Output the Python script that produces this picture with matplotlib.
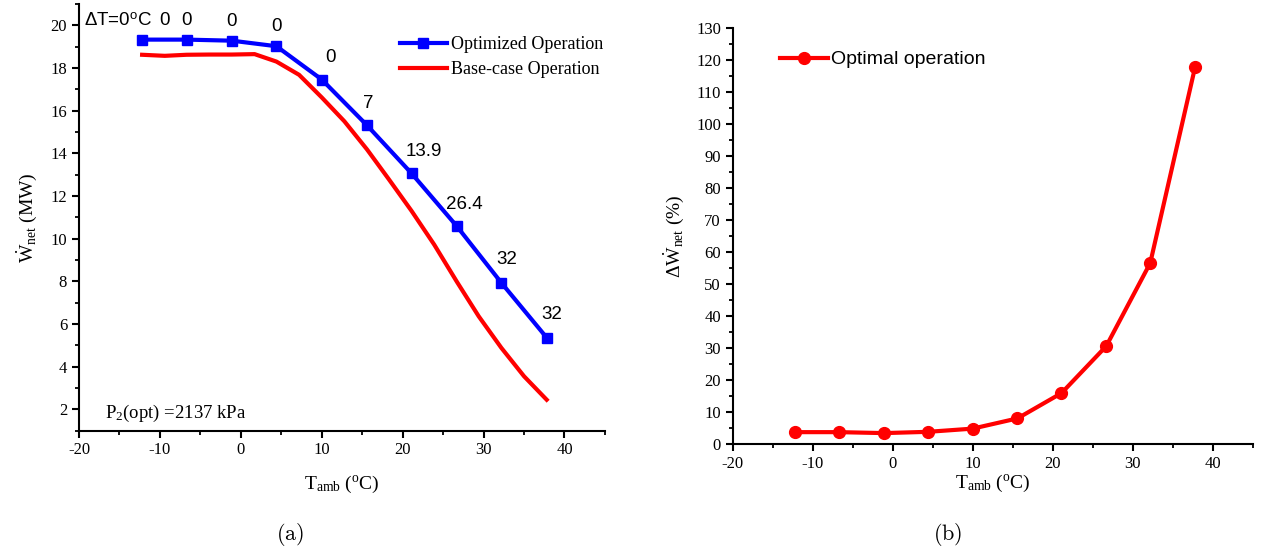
import matplotlib
matplotlib.use('Agg')
import matplotlib.pyplot as plt
from matplotlib.ticker import MultipleLocator

plt.rcParams['font.family'] = 'Liberation Serif'
plt.rcParams['mathtext.fontset'] = 'custom'
plt.rcParams['mathtext.rm'] = 'Liberation Serif'
plt.rcParams['mathtext.it'] = 'Liberation Serif:italic'
plt.rcParams['mathtext.bf'] = 'Liberation Serif:bold'
plt.rcParams['axes.unicode_minus'] = False

# ambient temperature (deg C), 10 degF steps
t_amb = [-12.2, -6.7, -1.1, 4.4, 10.0, 15.6, 21.1, 26.7, 32.2, 37.8]
w_opt = [19.33, 19.33, 19.28, 19.02, 17.46, 15.31, 13.06, 10.58, 7.93, 5.36]
dT_labels = ['0', '0', '0', '0', '0', '7', '13.9', '26.4', '32', '32']

# base case, 5 degF steps
t_base = [-12.2, -9.4, -6.7, -3.9, -1.1, 1.7, 4.4, 7.2, 10.0, 12.8,
          15.6, 18.3, 21.1, 23.9, 26.7, 29.4, 32.2, 35.0, 37.8]
w_base = [18.62, 18.57, 18.62, 18.63, 18.63, 18.65, 18.30, 17.68, 16.62, 15.50,
          14.18, 12.78, 11.30, 9.72, 7.98, 6.36, 4.88, 3.55, 2.45]

dw_pct = [3.7, 3.7, 3.4, 3.8, 4.8, 8.0, 15.9, 30.6, 56.6, 117.8]

BLUE = '#0000ff'
RED = '#ff0000'

fig = plt.figure(figsize=(12.64, 5.54), dpi=100)
ax1 = fig.add_axes([0.0625, 0.2226, 0.4161, 0.7702])
ax2 = fig.add_axes([0.5797, 0.1986, 0.4113, 0.7503])


def style_axes(ax):
    for s in ['top', 'right']:
        ax.spines[s].set_visible(False)
    for s in ['left', 'bottom']:
        ax.spines[s].set_linewidth(1.5)
    ax.tick_params(which='major', direction='out', length=5, width=1.5, labelsize=12)
    ax.tick_params(which='minor', direction='out', length=3, width=1.3)
    ax.xaxis.set_major_locator(MultipleLocator(10))
    ax.xaxis.set_minor_locator(MultipleLocator(5))
    ax.set_xlim(-20, 45)


# ---- (a) net power ----
style_axes(ax1)
ax1.plot(t_amb, w_opt, color=BLUE, lw=3, marker='s', ms=7.5, label='Optimized Operation')
ax1.plot(t_base, w_base, color=RED, lw=3, label='Base-case Operation')
ax1.set_ylim(1, 21)
ax1.yaxis.set_major_locator(MultipleLocator(2))
ax1.yaxis.set_minor_locator(MultipleLocator(1))
ax1.set_yticks(range(2, 21, 2))

label_dx = [16, 0, 0, 0, 6, 1, 9, 5, 4, 4]
label_dy = [13.5, 13.5, 14, 14.5, 16, 16, 16, 16, 17, 17]
for x, y, lab, dx, dy in zip(t_amb, w_opt, dT_labels, label_dx, label_dy):
    ax1.annotate(lab, (x, y), xytext=(dx, dy), textcoords='offset points',
                 ha='center', va='center', fontsize=13.5, family='Liberation Sans')
ax1.annotate(r'ΔT=0$^{\mathregular{o}}$C', (t_amb[0], w_opt[0]), xytext=(7, 13),
             textcoords='offset points', ha='right', va='center',
             fontsize=13.5, family='Liberation Sans')

ax1.text(0.05, 0.04, r'P$_{\mathregular{2}}$(opt) =2137 kPa', transform=ax1.transAxes,
         fontsize=13.5, va='center', ha='left')

ax1.set_xlabel(r'T$_{\mathregular{amb}}$ ($^{\mathregular{o}}$C)', fontsize=14, labelpad=11)
ax1.set_ylabel(r'$\dot{\mathrm{W}}_{\mathregular{net}}$ (MW)', fontsize=14, labelpad=8)
ax1.legend(loc='upper left', bbox_to_anchor=(0.61, 0.925), frameon=False,
           fontsize=13, handlelength=2.6, handletextpad=0.25, borderpad=0,
           borderaxespad=0, labelspacing=0.45)

# ---- (b) relative increase ----
style_axes(ax2)
ax2.plot(t_amb, dw_pct, color=RED, lw=3, marker='o', ms=8.5, label='Optimal operation')
ax2.set_ylim(0, 130)
ax2.yaxis.set_major_locator(MultipleLocator(10))
ax2.yaxis.set_minor_locator(MultipleLocator(5))
ax2.set_xlabel(r'T$_{\mathregular{amb}}$ ($^{\mathregular{o}}$C)', fontsize=14, labelpad=1)
ax2.set_ylabel(r'$\Delta\dot{\mathrm{W}}_{\mathregular{net}}$ (%)', fontsize=14, labelpad=7)
ax2.legend(loc='upper left', bbox_to_anchor=(0.09, 0.946), frameon=False,
           prop={'family': 'Liberation Sans', 'size': 14}, handlelength=2.5,
           handletextpad=0.15, borderpad=0, borderaxespad=0)

fig.text(0.2298, 0.036, r'$\mathrm{(a)}$', ha='center', va='center', fontsize=16,
         math_fontfamily='cm')
fig.text(0.750, 0.036, r'$\mathrm{(b)}$', ha='center', va='center', fontsize=16,
         math_fontfamily='cm')

fig.savefig('out.png', dpi=100)
